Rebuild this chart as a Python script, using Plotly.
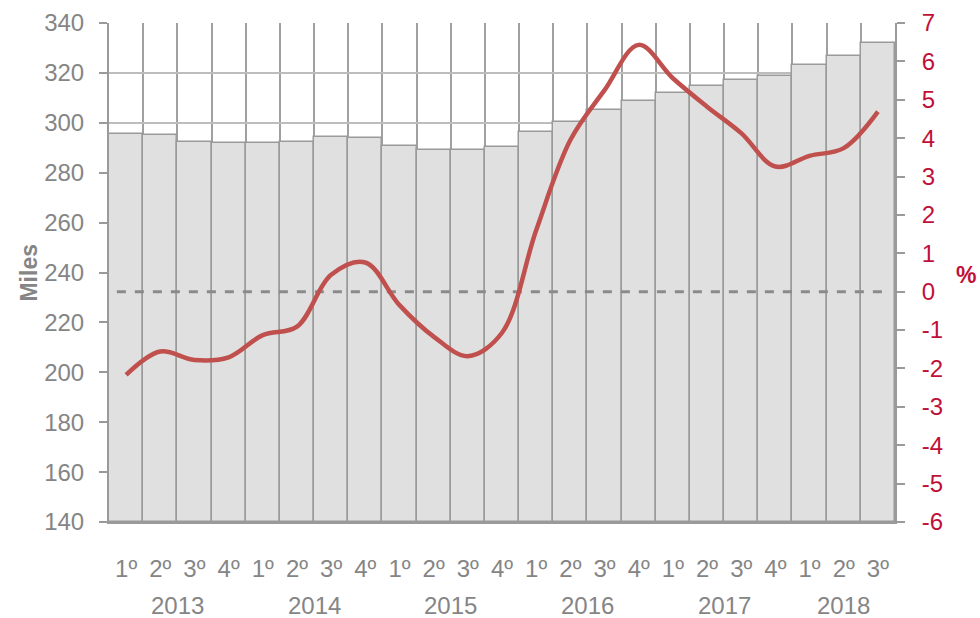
import plotly.graph_objects as go

# ─── Data ────────────────────────────────────────────────────────────────────
QUARTERS = ["1º", "2º", "3º", "4º"] * 5 + ["1º", "2º", "3º"]
YEARS = ["2013", "2014", "2015", "2016", "2017", "2018"]
YEAR_POS = [1.5, 5.5, 9.5, 13.5, 17.5, 21]
PCT_TICKS = list(range(-6, 8))

MILES = [295.6, 295.1, 292.4, 291.8, 291.8, 292.3, 294.2, 293.8, 290.8, 289.0,
         289.0, 290.2, 296.2, 300.4, 305.0, 308.6, 312.1, 314.8, 317.0, 318.6,
         323.0, 326.8, 331.9]
PCT = [-2.17, -1.56, -1.78, -1.71, -1.13, -0.91, 0.44, 0.76, -0.35, -1.17,
       -1.68, -1.07, 1.6, 3.95, 5.25, 6.43, 5.56, 4.82, 4.13, 3.26,
       3.54, 3.74, 4.69]

GRAY = "#858585"
GRID = "#bdbdbd"
AXIS = "#9a9a9a"
RED_TXT = "#c0103a"
LINE_RED = "#c0504d"
FONT = "Liberation Sans, Arial, sans-serif"
FS = 24

x = list(range(len(MILES)))

fig = go.Figure()

fig.add_trace(go.Bar(
    x=x, y=[m - 140 for m in MILES], base=140,
    marker=dict(color="#e0e0e0", line=dict(color=AXIS, width=1.5)),
    width=1.0, showlegend=False, hoverinfo="skip",
))

# zero reference on the % axis
fig.add_trace(go.Scatter(
    x=[-0.27, len(MILES) - 0.85], y=[0, 0], yaxis="y2", mode="lines",
    line=dict(color="#8a8a8a", width=3, dash="dash"), showlegend=False,
))

fig.add_trace(go.Scatter(
    x=x, y=PCT, yaxis="y2", mode="lines",
    line=dict(color=LINE_RED, width=4.5, shape="spline", smoothing=1.0),
    showlegend=False,
))

for yr, pos in zip(YEARS, YEAR_POS):
    fig.add_annotation(
        x=pos, y=-0.168, xref="x", yref="paper", text=yr, showarrow=False,
        font=dict(size=FS, color=GRAY, family=FONT), yanchor="middle",
    )

fig.add_annotation(
    x=-0.103, y=0.5, xref="paper", yref="paper", text="<b>Miles</b>", showarrow=False,
    textangle=-90, xanchor="center", yanchor="middle",
    font=dict(size=23, color=GRAY, family=FONT),
)
fig.add_annotation(
    x=1.0903, y=0.495, xref="paper", yref="paper", text="<b>%</b>", showarrow=False,
    xanchor="center", yanchor="middle",
    font=dict(size=23, color=RED_TXT, family=FONT),
)

fig.update_layout(
    width=980, height=618,
    plot_bgcolor="white", paper_bgcolor="white",
    margin=dict(l=109, r=85, t=23, b=96),
    bargap=0,
    font=dict(family=FONT, color=GRAY, size=FS),
    xaxis=dict(
        range=[-0.5, len(MILES) - 0.5], automargin=False,
        tickvals=x, ticktext=QUARTERS, ticklabelstandoff=24,
        tickfont=dict(size=FS, color=GRAY),
        showgrid=False, ticks="", showline=True, linecolor=AXIS, linewidth=2,
        minor=dict(tickvals=[i - 0.5 for i in range(len(MILES) + 1)],
                   showgrid=True, gridcolor="#a0a0a0", gridwidth=1.5, ticks=""),
        zeroline=False,
    ),
    yaxis=dict(
        range=[140, 340], dtick=20, automargin=False, ticklabelstandoff=10,
        tickfont=dict(size=FS, color=GRAY),
        showgrid=True, gridcolor=GRID, gridwidth=1.5,
        showline=True, linecolor=AXIS, linewidth=2,
        ticks="outside", ticklen=8, tickcolor=AXIS, tickwidth=1.5,
        zeroline=False,
    ),
    yaxis2=dict(
        range=[-6, 7], overlaying="y", side="right", automargin=False,
        tickvals=PCT_TICKS, ticktext=[str(t) for t in PCT_TICKS],
        ticklabelstandoff=12,
        tickfont=dict(size=FS, color=RED_TXT),
        showgrid=False, showline=True, linecolor=AXIS, linewidth=2,
        ticks="outside", ticklen=8, tickcolor=AXIS, tickwidth=1.5,
        zeroline=False,
    ),
)

# drop the default 8px body margin so the figure sits at the page origin
fig.write_html("out.html", config={"displayModeBar": False},
               post_script="document.body.style.margin='0';")
